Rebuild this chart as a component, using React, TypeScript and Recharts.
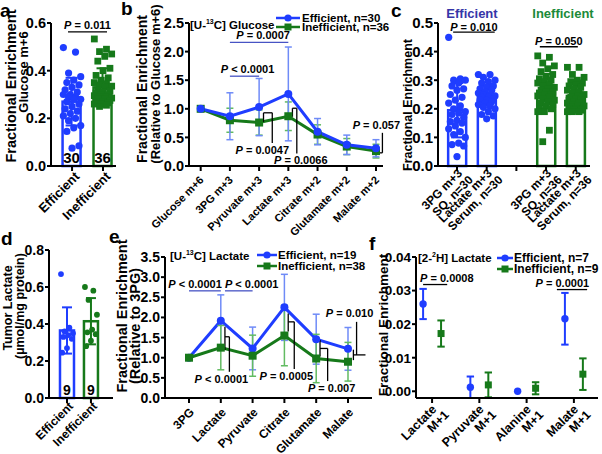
import React from 'react';
import {
  ComposedChart,
  Bar,
  Line,
  Scatter,
  XAxis,
  YAxis,
  ErrorBar,
  ReferenceLine,
  LabelList,
} from 'recharts';

const FONT = "'Liberation Sans', Arial, Helvetica, sans-serif";
const BLUE = '#1f3dff';
const GREEN = '#16791a';
const BLUE_LT = '#6f8bf7';
const GREEN_LT = '#62bb62';
const PLINE = '#4753c4';
const AX = { stroke: '#000', strokeWidth: 2 };

// a — glucose m+6 enrichment per tumour
const aGroups = ['Efficient', 'Inefficient'];
const aMeans = [0.27, 0.33];
const aSd = [0.1, 0.08];
const aN = [30, 36];
const aEff = [0.497, 0.478, 0.39, 0.375, 0.36, 0.35, 0.34, 0.33, 0.32, 0.31, 0.3, 0.3, 0.29, 0.29, 0.28, 0.28, 0.27, 0.26, 0.25, 0.24, 0.23, 0.22, 0.21, 0.2, 0.19, 0.17, 0.16, 0.145, 0.085, 0.075];
const aIneff = [0.533, 0.49, 0.48, 0.47, 0.46, 0.44, 0.41, 0.4, 0.38, 0.37, 0.36, 0.35, 0.345, 0.34, 0.335, 0.33, 0.32, 0.315, 0.31, 0.305, 0.3, 0.3, 0.295, 0.29, 0.29, 0.285, 0.28, 0.28, 0.275, 0.27, 0.27, 0.265, 0.26, 0.26, 0.255, 0.25];

// b — [U-13C] glucose tracing
const bCats = ['Glucose m+6', '3PG m+3', 'Pyruvate m+3', 'Lactate m+3', 'Citrate m+2', 'Glutamate m+2', 'Malate m+2'];
const bEff = [1.0, 0.87, 1.03, 1.26, 0.6, 0.37, 0.31];
const bEffErr = [0, 0.41, 0.5, 0.82, 0.23, 0.17, 0.15];
const bIneff = [1.0, 0.8, 0.76, 0.87, 0.55, 0.34, 0.26];
const bIneffErr = [0, 0.21, 0.22, 0.25, 0.17, 0.14, 0.12];

// c — 3PG (SQ) vs lactate (serum)
const cCats = ['3PG m+3\nSQ, n=30', 'Lactate m+3\nSerum, n=30', '', '3PG m+3\nSQ, n=36', 'Lactate m+3\nSerum, n=36'];
const cSlots = [0, 1, 3, 4];
const cMeans = [0.195, 0.248, 0.262, 0.245];
const cSd = [0.095, 0.032, 0.06, 0.04];
const cEff3pg = [0.45, 0.305, 0.3, 0.3, 0.29, 0.28, 0.27, 0.265, 0.25, 0.24, 0.23, 0.22, 0.21, 0.2, 0.19, 0.185, 0.18, 0.17, 0.16, 0.155, 0.15, 0.14, 0.13, 0.12, 0.11, 0.1, 0.08, 0.075, 0.07, 0.033];
const cEffLac = [0.32, 0.32, 0.31, 0.3, 0.295, 0.29, 0.28, 0.275, 0.27, 0.265, 0.26, 0.255, 0.25, 0.25, 0.245, 0.24, 0.24, 0.235, 0.23, 0.23, 0.225, 0.22, 0.215, 0.21, 0.205, 0.2, 0.19, 0.18, 0.175, 0.165];
const cIneff3pg = [0.385, 0.38, 0.36, 0.35, 0.34, 0.33, 0.32, 0.31, 0.305, 0.3, 0.295, 0.29, 0.285, 0.28, 0.275, 0.27, 0.265, 0.26, 0.26, 0.255, 0.25, 0.25, 0.245, 0.24, 0.235, 0.23, 0.225, 0.22, 0.215, 0.21, 0.2, 0.2, 0.19, 0.19, 0.125, 0.085];
const cIneffLac = [0.345, 0.345, 0.32, 0.31, 0.3, 0.295, 0.29, 0.285, 0.28, 0.275, 0.27, 0.265, 0.26, 0.255, 0.25, 0.245, 0.24, 0.24, 0.235, 0.23, 0.23, 0.225, 0.22, 0.22, 0.215, 0.21, 0.21, 0.205, 0.2, 0.2, 0.2, 0.195, 0.195, 0.19, 0.19, 0.19];

// d — tumour lactate
const dGroups = ['Efficient', 'Inefficient'];
const dMeans = [0.365, 0.415];
const dSd = [0.125, 0.125];
const dN = [9, 9];
const dEff = [0.67, 0.38, 0.36, 0.35, 0.34, 0.33, 0.32, 0.27, 0.245];
const dIneff = [0.6, 0.58, 0.53, 0.45, 0.37, 0.355, 0.345, 0.31, 0.28];

// e — [U-13C] lactate tracing
const eCats = ['3PG', 'Lactate', 'Pyruvate', 'Citrate', 'Glutamate', 'Malate'];
const eEff = [1.0, 1.92, 1.23, 2.25, 1.46, 1.22];
const eEffErr = [0, 0.64, 0.53, 0.82, 0.62, 0.53];
const eIneff = [1.0, 1.25, 1.05, 1.55, 0.98, 0.9];
const eIneffErr = [0, 0.55, 0.51, 0.75, 0.6, 0.48];

// f — [2-2H] lactate tracing
const fCats = ['Lactate\nM+1', 'Pyruvate\nM+1', 'Alanine\nM+1', 'Malate\nM+1'];
const fEff = [0.026, 0.0012, 0.0, 0.0216];
const fEffErr = [0.0045, 0.0032, 0, 0.0077];
const fIneff = [0.0172, 0.0019, 0.0009, 0.0051];
const fIneffErr = [0.0039, 0.0037, 0.0018, 0.0047];

const f1 = (v: number) => v.toFixed(1);
const f2 = (v: number) => v.toFixed(2);
const jit = (i: number) => ((i * 7) % 11) / 10 - 0.5;
const R2 = Math.SQRT1_2;

// x domains shared by the charts and the rotated category labels
const aDom: [number, number] = [-0.68, 1.42];
const bDom: [number, number] = [-0.4, 6.24];
const cDom: [number, number] = [-0.64, 4.48];
const dDom: [number, number] = [-0.75, 1.92];
const eDom: [number, number] = [-0.755, 5.755];
const fDom: [number, number] = [-0.34, 3.51];

const yAxisProps = (size: number) => ({
  axisLine: AX,
  tickLine: AX,
  tickSize: 4,
  tickMargin: 1,
  interval: 0 as const,
  tick: { fontSize: size, fontWeight: 700, fill: '#000', fontFamily: FONT },
});

const noTick = () => <g />;

type PO = { at?: 'bottom' | 'top'; edge?: 'start' | 'end'; anchor?: 'start' | 'middle' | 'end'; dx?: number; dy?: number };
const pLabel = (rest: string, o: PO = {}) => (props: any) => {
  const vb = props.viewBox || { x: 0, y: 0, width: 0, height: 0 };
  let x = vb.x + (vb.width || 0) / 2;
  let y = vb.y;
  if (o.at === 'bottom') y = vb.y + (vb.height || 0);
  if (o.edge === 'start') x = vb.x;
  if (o.edge === 'end') x = vb.x + vb.width;
  return (
    <text
      x={x + (o.dx ?? 0)}
      y={y + (o.dy ?? -3)}
      textAnchor={o.anchor ?? 'middle'}
      fontSize={11}
      fontWeight="bold"
      fontFamily={FONT}
      fill="#000"
    >
      <tspan fontStyle="italic">P</tspan>
      {rest}
    </text>
  );
};

const seg = (k: string, x1: number, y1: number, x2: number, y2: number, stroke = '#000', label?: any) => (
  <ReferenceLine
    key={k}
    segment={[{ x: x1, y: y1 }, { x: x2, y: y2 }]}
    stroke={stroke}
    strokeWidth={1.3}
    ifOverflow="visible"
    label={label}
  />
);

// short "]" between the two points, a stub out, then a long leg to the P text
const bracket = (k: string, x0: number, yA: number, yB: number, x1: number, yMid: number, yEnd: number, label: any) => [
  seg(k + 'a', x0, yA, x0, yB),
  seg(k + 'b', x0, yMid, x1, yMid),
  seg(k + 'c', x1, yMid, x1, yEnd, '#000', label),
];

const dotC = (fill: string, r: number) => (p: any) => <circle key={p.index} cx={p.cx} cy={p.cy} r={r} fill={fill} />;
const dotS = (fill: string, s: number) => (p: any) => (
  <rect key={p.index} x={p.cx - s / 2} y={p.cy - s / 2} width={s} height={s} fill={fill} />
);

const barShape = (colors: string[]) => (p: any) => (
  <rect x={p.x} y={p.y} width={p.width} height={p.height} fill="#fff" stroke={colors[p.index]} strokeWidth={2.5} />
);

const nLabel = (size: number) => (p: any) => (
  <text
    x={p.x + p.width / 2}
    y={p.y + p.height - 3}
    textAnchor="middle"
    fontSize={size}
    fontWeight="bold"
    fontFamily={FONT}
    fill="#000"
  >
    {p.value}
  </text>
);

const box = (left: number, top: number) => ({ position: 'absolute' as const, left, top });

function PanelA() {
  const bars = aGroups.map((g, i) => ({ x: i, y: aMeans[i], n: aN[i], eb: i === 0 ? aSd[i] : 0, eg: i === 1 ? aSd[i] : 0 }));
  const effPts = aEff.map((v, i) => ({ x: jit(i) * 0.56, y: v }));
  const inPts = aIneff.map((v, i) => ({ x: 1 + jit(i) * 0.56, y: v }));
  return (
    <div style={box(0, 0)}>
      <ComposedChart width={125} height={230} data={bars} margin={{ top: 23, right: 9, bottom: 0, left: 0 }}>
        <XAxis type="number" dataKey="x" domain={aDom} ticks={[0, 1]} height={64} axisLine={AX} tickLine={AX} tickSize={5} interval={0} tick={noTick} />
        <XAxis xAxisId="pts" type="number" dataKey="x" domain={aDom} hide />
        <YAxis type="number" domain={[0, 0.6]} ticks={[0, 0.2, 0.4, 0.6]} width={51} tickFormatter={f1} {...yAxisProps(14.5)} />
        <Bar dataKey="y" barSize={18} shape={barShape([BLUE, GREEN])} isAnimationActive={false}>
          <ErrorBar dataKey="eb" width={6} stroke={BLUE} strokeWidth={2} direction="y" />
          <ErrorBar dataKey="eg" width={6} stroke={GREEN} strokeWidth={2} direction="y" />
          <LabelList dataKey="n" content={nLabel(15)} />
        </Bar>
        <Scatter xAxisId="pts" data={effPts} dataKey="y" shape={dotC(BLUE, 3.6)} isAnimationActive={false} />
        <Scatter xAxisId="pts" data={inPts} dataKey="y" shape={dotS(GREEN, 6.8)} isAnimationActive={false} />
        {seg('pa', -0.13, 0.563, 1.13, 0.563, '#000', pLabel(' = 0.011'))}
      </ComposedChart>
    </div>
  );
}

function PanelB() {
  const data = bCats.map((c, i) => ({ x: i, eff: bEff[i], effErr: bEffErr[i], ineff: bIneff[i], ineffErr: bIneffErr[i] }));
  return (
    <div style={box(110, 0)}>
      <ComposedChart width={300} height={230} data={data} margin={{ top: 23, right: 27, bottom: 0, left: 0 }}>
        <XAxis type="number" dataKey="x" domain={bDom} ticks={[0, 1, 2, 3, 4, 5, 6]} height={64} axisLine={AX} tickLine={AX} tickSize={5} interval={0} tick={noTick} />
        <YAxis type="number" domain={[0, 2.5]} ticks={[0, 0.5, 1, 1.5, 2, 2.5]} width={79} tickFormatter={f1} {...yAxisProps(14.5)} />
        <Line dataKey="ineff" stroke={GREEN} strokeWidth={3} dot={dotS(GREEN, 8)} isAnimationActive={false}>
          <ErrorBar dataKey="ineffErr" width={3.5} stroke={GREEN_LT} strokeWidth={1.5} direction="y" />
        </Line>
        <Line dataKey="eff" stroke={BLUE} strokeWidth={3} dot={dotC(BLUE, 4)} isAnimationActive={false}>
          <ErrorBar dataKey="effErr" width={3.5} stroke={BLUE_LT} strokeWidth={1.5} direction="y" />
        </Line>
        {seg('b1', 1, 1.57, 2, 1.57, PLINE, pLabel(' < 0.0001', { dx: 3 }))}
        {seg('b2', 1, 2.16, 3, 2.16, PLINE, pLabel(' = 0.0007', { dx: 4 }))}
        {bracket('bp', 2.15, 0.93, 0.77, 2.45, 0.93, 0.4, pLabel(' = 0.0047', { at: 'bottom', dx: -10, dy: 11 }))}
        {bracket('bl', 3.14, 1.01, 0.86, 3.29, 1.01, 0.22, pLabel(' = 0.0066', { at: 'bottom', dx: 4, dy: 11 }))}
        {bracket('bm', 6.1, 0.3, 0.23, 6.22, 0.23, 0.58, pLabel(' = 0.057', { at: 'top', dx: -6, dy: -4 }))}
      </ComposedChart>
    </div>
  );
}

function PanelC() {
  const colors = [BLUE, BLUE, GREEN, GREEN];
  const bars = cSlots.map((s, i) => ({ x: s, y: cMeans[i], eb: i < 2 ? cSd[i] : 0, eg: i >= 2 ? cSd[i] : 0 }));
  const groups = [cEff3pg, cEffLac, cIneff3pg, cIneffLac];
  return (
    <div style={box(360, 0)}>
      <ComposedChart width={242} height={230} data={bars} margin={{ top: 23, right: 12, bottom: 0, left: 0 }}>
        <XAxis type="number" dataKey="x" domain={cDom} ticks={[0, 1, 2, 3, 4]} height={64} axisLine={AX} tickLine={AX} tickSize={5} interval={0} tick={noTick} />
        <XAxis xAxisId="pts" type="number" dataKey="x" domain={cDom} hide />
        <YAxis type="number" domain={[0, 0.5]} ticks={[0, 0.1, 0.2, 0.3, 0.4, 0.5]} width={78} tickFormatter={f1} {...yAxisProps(15)} />
        <Bar dataKey="y" barSize={18} shape={barShape(colors)} isAnimationActive={false}>
          <ErrorBar dataKey="eb" width={6} stroke={BLUE} strokeWidth={2} direction="y" />
          <ErrorBar dataKey="eg" width={6} stroke={GREEN} strokeWidth={2} direction="y" />
        </Bar>
        {groups.map((vals, g) => (
          <Scatter
            key={g}
            xAxisId="pts"
            data={vals.map((v, i) => ({ x: cSlots[g] + jit(i) * 0.56, y: v }))}
            dataKey="y"
            shape={g < 2 ? dotC(BLUE, 3.6) : dotS(GREEN, 6.8)}
            isAnimationActive={false}
          />
        ))}
        {seg('c1', -0.13, 0.468, 1.27, 0.468, '#000', pLabel(' = 0.010', { dy: -1 }))}
        {seg('c2', 2.79, 0.417, 4.07, 0.417, '#000', pLabel(' = 0.050', { dy: -2 }))}
      </ComposedChart>
    </div>
  );
}

function PanelD() {
  const bars = dGroups.map((g, i) => ({ x: i, y: dMeans[i], n: dN[i], eb: i === 0 ? dSd[i] : 0, eg: i === 1 ? dSd[i] : 0 }));
  const effPts = dEff.map((v, i) => ({ x: jit(i) * 0.5, y: v }));
  const inPts = dIneff.map((v, i) => ({ x: 1 + jit(i) * 0.5, y: v }));
  return (
    <div style={box(0, 225)}>
      <ComposedChart width={120} height={229} data={bars} margin={{ top: 25, right: 7, bottom: 0, left: 0 }}>
        <XAxis type="number" dataKey="x" domain={dDom} ticks={[0, 1]} height={56} axisLine={AX} tickLine={AX} tickSize={5} interval={0} tick={noTick} />
        <XAxis xAxisId="pts" type="number" dataKey="x" domain={dDom} hide />
        <YAxis type="number" domain={[0, 0.8]} ticks={[0, 0.2, 0.4, 0.6, 0.8]} width={49} tickFormatter={f1} {...yAxisProps(14)} />
        <Bar dataKey="y" barSize={14} shape={barShape([BLUE, GREEN])} isAnimationActive={false}>
          <ErrorBar dataKey="eb" width={5} stroke={BLUE} strokeWidth={2} direction="y" />
          <ErrorBar dataKey="eg" width={5} stroke={GREEN} strokeWidth={2} direction="y" />
          <LabelList dataKey="n" content={nLabel(14)} />
        </Bar>
        <Scatter xAxisId="pts" data={effPts} dataKey="y" shape={dotC(BLUE, 2.9)} isAnimationActive={false} />
        <Scatter xAxisId="pts" data={inPts} dataKey="y" shape={dotC(GREEN, 2.9)} isAnimationActive={false} />
      </ComposedChart>
    </div>
  );
}

function PanelE() {
  const data = eCats.map((c, i) => ({ x: i, eff: eEff[i], effErr: eEffErr[i], ineff: eIneff[i], ineffErr: eIneffErr[i] }));
  return (
    <div style={box(110, 225)}>
      <ComposedChart width={280} height={229} data={data} margin={{ top: 32, right: 18, bottom: 0, left: 0 }}>
        <XAxis type="number" dataKey="x" domain={eDom} ticks={[0, 1, 2, 3, 4, 5]} height={56} axisLine={AX} tickLine={AX} tickSize={5} interval={0} tick={noTick} />
        <YAxis type="number" domain={[0, 3.5]} ticks={[0, 0.5, 1, 1.5, 2, 2.5, 3, 3.5]} width={55} tickFormatter={f1} {...yAxisProps(14)} />
        <Line dataKey="eff" stroke={BLUE} strokeWidth={3} dot={dotC(BLUE, 4)} isAnimationActive={false}>
          <ErrorBar dataKey="effErr" width={3.5} stroke={BLUE_LT} strokeWidth={1.5} direction="y" />
        </Line>
        <Line dataKey="ineff" stroke={GREEN} strokeWidth={3} dot={dotS(GREEN, 8)} isAnimationActive={false}>
          <ErrorBar dataKey="ineffErr" width={3.5} stroke={GREEN_LT} strokeWidth={1.5} direction="y" />
        </Line>
        {seg('e1', 0, 2.66, 1, 2.66, PLINE, pLabel(' < 0.0001', { edge: 'end', anchor: 'end', dx: 1 }))}
        {seg('e2', 1.13, 2.66, 2.0, 2.66, PLINE, pLabel(' < 0.0001', { edge: 'start', anchor: 'start', dx: 0 }))}
        {bracket('el', 1.13, 1.77, 1.19, 1.27, 1.52, 0.65, pLabel(' < 0.0001', { at: 'bottom', dx: -8, dy: 11 }))}
        {bracket('ec', 3.12, 2.1, 1.65, 3.31, 1.89, 0.72, pLabel(' = 0.0005', { at: 'bottom', dx: -8, dy: 11 }))}
        {bracket('eg', 4.12, 1.44, 1.03, 4.36, 1.23, 0.42, pLabel(' = 0.007', { at: 'bottom', dx: 4, dy: 11 }))}
        {seg('em1', 5.17, 1.2, 5.17, 0.94)}
        {seg('em2', 5.17, 1.07, 5.55, 1.07)}
        {seg('em3', 5.27, 1.07, 5.27, 1.89, '#000', pLabel(' = 0.010', { at: 'top', dx: -7, dy: -5 }))}
      </ComposedChart>
    </div>
  );
}

function PanelF() {
  const eff = fCats.map((c, i) => ({ x: i - 0.19, y: fEff[i], e: fEffErr[i] }));
  const ineff = fCats.map((c, i) => ({ x: i + 0.19, y: fIneff[i], e: fIneffErr[i] }));
  return (
    <div style={box(360, 225)}>
      <ComposedChart width={242} height={229} margin={{ top: 32, right: 4, bottom: 0, left: 0 }}>
        <XAxis type="number" dataKey="x" domain={fDom} ticks={[0, 1, 2, 3]} height={56} axisLine={AX} tickLine={AX} tickSize={5} interval={0} tick={noTick} />
        <YAxis type="number" domain={[0, 0.04]} ticks={[0, 0.01, 0.02, 0.03, 0.04]} width={56} tickFormatter={f2} {...yAxisProps(13.5)} />
        <Scatter data={eff} dataKey="y" shape={dotC(BLUE, 3.7)} isAnimationActive={false}>
          <ErrorBar dataKey="e" width={3.7} stroke={BLUE} strokeWidth={2} direction="y" />
        </Scatter>
        <Scatter data={ineff} dataKey="y" shape={dotS(GREEN, 7)} isAnimationActive={false}>
          <ErrorBar dataKey="e" width={3.7} stroke={GREEN} strokeWidth={2} direction="y" />
        </Scatter>
        {seg('f1', -0.19, 0.0318, 0.32, 0.0318, '#000', pLabel(' = 0.0008', { edge: 'start', anchor: 'start', dx: -3 }))}
        {seg('f2', 2.64, 0.0303, 3.28, 0.0303, '#000', pLabel(' = 0.0001', { edge: 'end', anchor: 'end', dx: 2 }))}
      </ComposedChart>
    </div>
  );
}

const vText = (x: number, cy: number, text: string, size: number) => (
  <text transform={`translate(${x},${cy}) rotate(-90)`} textAnchor="middle" fontSize={size} fontWeight="bold" fontFamily={FONT} fill="#000">
    {text}
  </text>
);

// rotated category labels under each x axis (plot edges match the chart margins above)
const catAxes = [
  { labels: aGroups, left: 51, right: 116, dom: aDom, axisY: 166, size: 13, dx: 5, dy: 1, l2: 4 },
  { labels: bCats, left: 189, right: 383, dom: bDom, axisY: 166, size: 11, dx: 1, dy: 5, l2: 4 },
  { labels: cCats, left: 438, right: 590, dom: cDom, axisY: 166, size: 12, dx: 3, dy: -2, l2: 3 },
  { labels: dGroups, left: 49, right: 113, dom: dDom, axisY: 398, size: 12, dx: 4, dy: -1, l2: 4 },
  { labels: eCats, left: 165, right: 372, dom: eDom, axisY: 398, size: 12, dx: 3, dy: 5, l2: 4 },
  { labels: fCats, left: 416, right: 598, dom: fDom, axisY: 398, size: 12.5, dx: 2, dy: 2, l2: 5 },
];

function CatLabels() {
  return (
    <g>
      {catAxes.map((ax, a) =>
        ax.labels.map((label, v) => {
          if (!label) return null;
          const px = ax.left + ((v - ax.dom[0]) / (ax.dom[1] - ax.dom[0])) * (ax.right - ax.left);
          const py = ax.axisY + 7;
          return label.split('\n').map((l, i) => {
            const down = 0.35 * ax.size + i * 1.02 * ax.size;
            const along = i * ax.l2;
            const tx = px + ax.dx + down * R2 + along * R2;
            const ty = py + ax.dy + down * R2 - along * R2;
            return (
              <text
                key={`${a}-${v}-${i}`}
                transform={`translate(${tx},${ty}) rotate(-45)`}
                textAnchor="end"
                fontSize={ax.size}
                fontWeight="bold"
                fontFamily={FONT}
                fill="#000"
              >
                {l}
              </text>
            );
          });
        })
      )}
    </g>
  );
}

const legendRows = (x0: number, x1: number, tx: number, y1: number, y2: number, l1: string, l2: string, size: number) => (
  <g>
    <line x1={x0} y1={y1} x2={x1} y2={y1} stroke={BLUE} strokeWidth={2.5} />
    <circle cx={(x0 + x1) / 2} cy={y1} r={3.6} fill={BLUE} />
    <line x1={x0} y1={y2} x2={x1} y2={y2} stroke={GREEN} strokeWidth={2.5} />
    <rect x={(x0 + x1) / 2 - 3.5} y={y2 - 3.5} width={7} height={7} fill={GREEN} />
    <text x={tx} y={y1 + 4} fontSize={size} fontWeight="bold" fontFamily={FONT} fill="#000">{l1}</text>
    <text x={tx} y={y2 + 4} fontSize={size} fontWeight="bold" fontFamily={FONT} fill="#000">{l2}</text>
  </g>
);

function Overlay() {
  const t = { fontWeight: 'bold' as const, fontFamily: FONT, fill: '#000' };
  return (
    <svg width={602} height={454} style={{ position: 'absolute', left: 0, top: 0, pointerEvents: 'none' }}>
      <text x={0} y={17} fontSize={19} {...t}>a</text>
      <text x={121} y={15} fontSize={19} {...t}>b</text>
      <text x={391} y={17} fontSize={19} {...t}>c</text>
      <text x={1} y={245} fontSize={19} {...t}>d</text>
      <text x={109} y={243} fontSize={19} {...t}>e</text>
      <text x={369} y={250} fontSize={19} {...t}>f</text>

      {vText(16, 86, 'Fractional Enrichment', 14.5)}
      {vText(28, 72, 'Glucose m+6', 13)}
      {vText(147, 89, 'Fractional Enrichment', 14)}
      {vText(160, 84, '(Relative to Glucose m+6)', 13)}
      {vText(412, 105, 'Fractional Enrichment', 12.5)}
      {vText(12, 308, 'Tumor Lactate', 12.5)}
      {vText(24, 306, '(µmol/mg protein)', 12.5)}
      {vText(127, 316, 'Fractional Enrichment', 14.5)}
      {vText(140, 326, '(Relative to 3PG)', 14.5)}
      {vText(388, 325, 'Fractional Enrichment', 13.5)}

      <CatLabels />

      <text x={190} y={29} fontSize={11.5} {...t}>
        [U-<tspan fontSize={7} dy={-5}>13</tspan>
        <tspan dy={5}>C] Glucose</tspan>
      </text>
      <text x={170} y={260} fontSize={11.5} {...t}>
        [U-<tspan fontSize={7} dy={-5}>13</tspan>
        <tspan dy={5}>C] Lactate</tspan>
      </text>
      <text x={418} y={262} fontSize={11.5} {...t}>
        [2-<tspan fontSize={7} dy={-5}>2</tspan>
        <tspan dy={5}>H] Lactate</tspan>
      </text>

      <text x={472} y={18} textAnchor="middle" fontSize={13} fontWeight="bold" fontFamily={FONT} fill="#3535a8">Efficient</text>
      <text x={563} y={18} textAnchor="middle" fontSize={13} fontWeight="bold" fontFamily={FONT} fill="#1c8a3a">Inefficient</text>

      {legendRows(276, 300, 302, 18, 27, 'Efficient, n=30', 'Inefficient, n=36', 11.5)}
      {legendRows(257, 277, 278, 255, 266, 'Efficient, n=19', 'Inefficient, n=38', 11.5)}
      {legendRows(497, 513, 514, 258, 269, 'Efficient, n=7', 'Inefficient, n=9', 12)}
    </svg>
  );
}

export default function App() {
  return (
    <div style={{ position: 'absolute', left: 0, top: 0, width: 602, height: 454, background: '#fff' }}>
      <PanelA />
      <PanelB />
      <PanelC />
      <PanelD />
      <PanelE />
      <PanelF />
      <Overlay />
    </div>
  );
}
